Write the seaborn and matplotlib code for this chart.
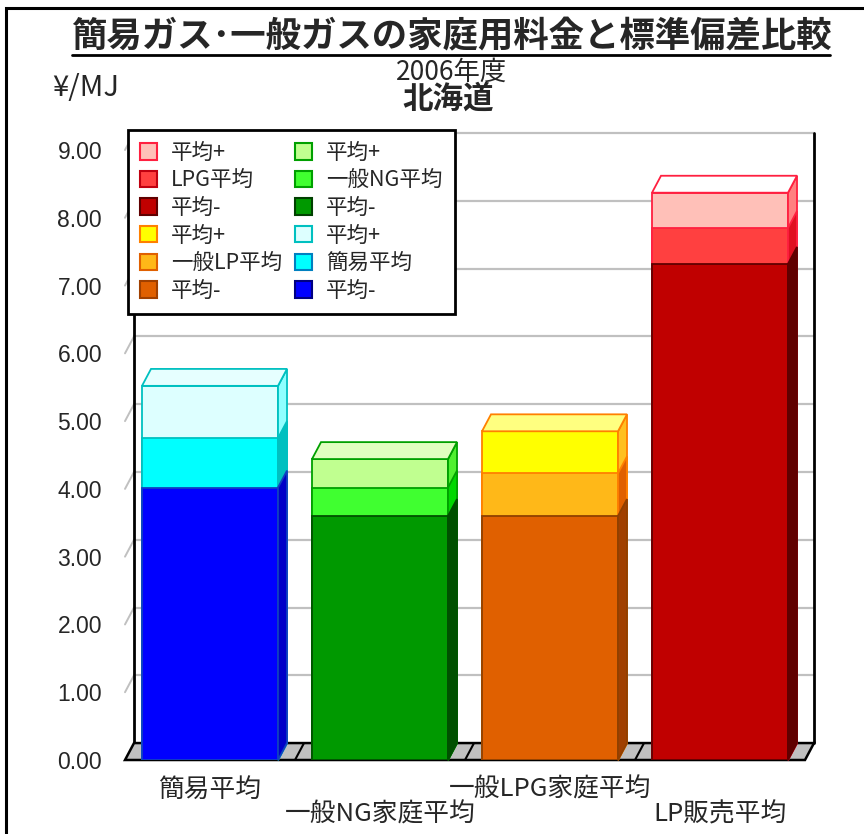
import numpy as np
import pandas as pd
import matplotlib
matplotlib.use("Agg")
import matplotlib.pyplot as plt
import seaborn as sns
from matplotlib.patches import Polygon, Patch, Rectangle
from matplotlib.lines import Line2D

# ---- data -------------------------------------------------------------
categories = ["簡易平均", "一般NG家庭平均", "一般LPG家庭平均", "LP販売平均"]
mean_minus = [4.02, 3.60, 3.60, 7.32]   # 平均 - 標準偏差
mean_val = [4.75, 4.02, 4.23, 7.85]     # 平均
mean_plus = [5.52, 4.44, 4.85, 8.37]    # 平均 + 標準偏差
tick_values = [0, 1, 2, 3, 4, 5, 6, 7, 8, 9]

legend_labels = ["平均+", "LPG平均", "平均-",
                 "平均+", "一般LP平均", "平均-",
                 "平均+", "一般NG平均", "平均-",
                 "平均+", "簡易平均", "平均-"]

# ---- colours (per category: 簡易, NG, LPG, LP販売) ----------------------
front_bottom = ["#0000FF", "#009900", "#E06000", "#C00000"]
front_mid = ["#00FFFF", "#40FF30", "#FFB818", "#FF4040"]
front_top = ["#DDFFFF", "#C0FF90", "#FFFF00", "#FFC0B8"]
side_bottom = ["#0000C8", "#005000", "#A04000", "#600000"]
side_mid = ["#00C0C0", "#00D800", "#E06000", "#E01020"]
side_top = ["#90FFFF", "#50F030", "#FFC020", "#FF8080"]
lid_colors = ["#E6FFFF", "#E0FFC0", "#FFFF80", "#FFFFFF"]
edge_bottom = ["#1040C0", "#005000", "#904000", "#600000"]
edge_mid = ["#00C0C0", "#00A000", "#FF8000", "#FF2040"]
edge_top = ["#00C0C0", "#00A000", "#FF8000", "#FF2040"]

legend_faces = ["#FFC0B8", "#FF4040", "#C00000",
                "#FFFF00", "#FFB818", "#E06000",
                "#C0FF90", "#40FF30", "#009900",
                "#DDFFFF", "#00FFFF", "#0000FF"]
legend_edges = ["#FF2040", "#C00010", "#600000",
                "#FF8000", "#E06000", "#A04000",
                "#00A000", "#00A000", "#004000",
                "#00C0C0", "#0080C0", "#000080"]

df = pd.DataFrame({"category": categories, "minus": mean_minus,
                   "mean": mean_val, "plus": mean_plus})

sns.set_theme(style="white")
plt.rcParams["font.family"] = ["Noto Sans CJK JP", "DejaVu Sans"]

W, H = 864, 834
fig = plt.figure(figsize=(W / 100, H / 100), dpi=100)
ax = fig.add_axes([125 / W, 1 - 760 / H, 680 / W, 610 / H])
ax.set_facecolor("none")

# depth offset of the pseudo-3D box (data units)
dx, dy = 0.053, 0.25

# back wall grid lines and side-wall diagonals
for v in tick_values[1:]:
    ax.add_line(Line2D([-0.5 + dx, 3.5 + dx], [v + dy, v + dy], color="#C0C0C0",
                       lw=1.6, zorder=0.5, clip_on=False))
    ax.add_line(Line2D([-0.5, -0.5 + dx], [v, v + dy], color="#C0C0C0",
                       lw=1.4, zorder=0.5, clip_on=False))
# back wall vertical edges
for xe in (-0.5 + dx, 3.5 + dx):
    ax.add_line(Line2D([xe, xe], [dy, 9 + dy], color="black", lw=2,
                       zorder=0.6, clip_on=False))

# floor
ax.add_patch(Polygon([(-0.5, 0), (3.5, 0), (3.5 + dx, dy), (-0.5 + dx, dy)],
                     closed=True, facecolor="#C0C0C0", edgecolor="black",
                     lw=1.8, zorder=1, clip_on=False))
for xb in (0.5, 1.5, 2.5):
    ax.add_line(Line2D([xb, xb + dx], [0, dy], color="black", lw=1.5,
                       zorder=1.1, clip_on=False))

# stacked bars: tallest layer first, lower layers over it
layers = [("plus", front_top, side_top, edge_top, True),
          ("mean", front_mid, side_mid, edge_mid, False),
          ("minus", front_bottom, side_bottom, edge_bottom, False)]
for col, faces, sides, edges, with_lid in layers:
    n0 = len(ax.patches)
    sns.barplot(data=df, x="category", y=col, hue="category",
                palette=faces, dodge=False, width=0.8, saturation=1,
                legend=False, ax=ax, zorder=3)
    bars = sorted(ax.patches[n0:], key=lambda p: p.get_x())
    for i, p in enumerate(bars):
        p.set_edgecolor(edges[i])
        p.set_linewidth(1.3)
        p.set_zorder(3)
        x0 = p.get_x()
        x1 = x0 + p.get_width()
        y0 = p.get_y()
        y1 = y0 + p.get_height()
        ax.add_patch(Polygon([(x1, y0), (x1 + dx, y0 + dy), (x1 + dx, y1 + dy), (x1, y1)],
                             closed=True, facecolor=sides[i], edgecolor=edges[i],
                             lw=1.3, zorder=3, clip_on=False))
        if with_lid:
            ax.add_patch(Polygon([(x0, y1), (x0 + dx, y1 + dy), (x1 + dx, y1 + dy), (x1, y1)],
                                 closed=True, facecolor=lid_colors[i], edgecolor=edges[i],
                                 lw=1.3, zorder=3, clip_on=False))

ax.set_xlim(-0.5, 3.5)
ax.set_ylim(0, 9)
ax.set_yticks(tick_values)
ax.set_yticklabels([f"{v:.2f}" for v in tick_values], fontsize=16.5,
                   fontfamily="Liberation Sans")
ax.tick_params(axis="y", length=0, pad=16.5)
ax.set_xticks([])
ax.set_xlabel("")
ax.set_ylabel("")
for s in ax.spines.values():
    s.set_visible(False)

# staggered category labels
xt = ax.get_xaxis_transform()
for i, c in enumerate(categories):
    yy = -0.049 if i % 2 == 0 else -0.090
    ax.text(i, yy, c, transform=xt, ha="center", va="center", fontsize=18.5)

# titles
fig.text(451 / W, 1 - 37 / H, "簡易ガス･一般ガスの家庭用料金と標準偏差比較",
         ha="center", va="center", fontsize=25.5, fontweight="bold")
fig.add_artist(Line2D([72 / W, 830 / W], [1 - 55 / H, 1 - 55 / H], color="black",
                      lw=2, transform=fig.transFigure))
fig.text(452 / W, 1 - 72 / H, "2006年度", ha="center", va="center", fontsize=19)
fig.text(448 / W, 1 - 99 / H, "北海道", ha="center", va="center", fontsize=22,
         fontweight="bold")
fig.text(52 / W, 1 - 88 / H, "¥/MJ", ha="left", va="center", fontsize=21)

# legend
handles = [Patch(facecolor=f, edgecolor=e, lw=1.5) for f, e in zip(legend_faces, legend_edges)]
leg = fig.legend(handles, legend_labels, ncol=2, loc="upper left",
                 bbox_to_anchor=(128 / W, 1 - 130 / H), borderaxespad=0,
                 fontsize=15.5, frameon=True, fancybox=False, shadow=False,
                 handlelength=0.8, handleheight=0.8, handletextpad=0.65,
                 columnspacing=0.6, labelspacing=0.26, borderpad=0.55)
leg.get_frame().set_edgecolor("black")
leg.get_frame().set_linewidth(2)
leg.get_frame().set_facecolor("white")
leg.get_frame().set_alpha(1)

# outer frame
fig.add_artist(Rectangle((6 / W, -0.05), 1.0, 1 - 8 / H + 0.05, fill=False,
                         edgecolor="black", lw=2.2, transform=fig.transFigure))

fig.savefig("out.png", dpi=100)
